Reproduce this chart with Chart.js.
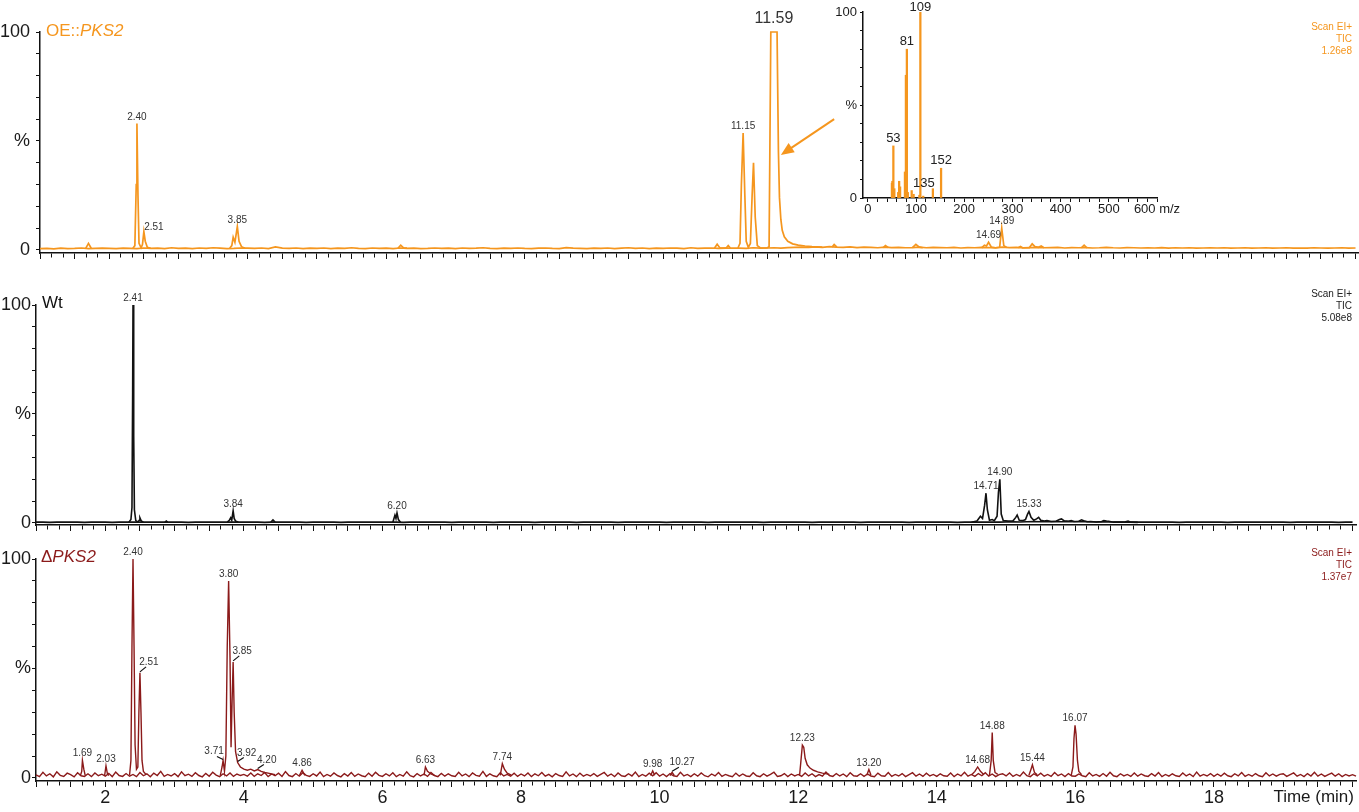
<!DOCTYPE html>
<html>
<head>
<meta charset="utf-8">
<title>TIC chromatograms</title>
<script src="https://cdn.jsdelivr.net/npm/chart.js@4.4.1/dist/chart.umd.min.js"></script>
<style>
  html, body { margin: 0; padding: 0; background: #fff; }
  #wrap { position: relative; width: 1359px; height: 812px; overflow: hidden; font-family: "Liberation Sans", Arial, sans-serif; }
  canvas { position: absolute; left: 0; }
  .ttl { position: absolute; font-size: 17px; line-height: 18px; white-space: nowrap; }
  .scan { position: absolute; right: 7px; font-size: 10px; line-height: 12px; text-align: right; }
  .xname { position: absolute; right: 5px; top: 788px; font-size: 17px; line-height: 18px; color: #1a1a1a; }
</style>
</head>
<body>
<div id="wrap">
  <canvas id="oe" width="1359" height="270" style="top:0"></canvas>
  <canvas id="wt" width="1359" height="265" style="top:275px"></canvas>
  <canvas id="ko" width="1359" height="267" style="top:545px"></canvas>
  <canvas id="ms" width="400" height="222" style="left:820px;top:0"></canvas>

  <div class="ttl" style="left:46px;top:22px;color:#f5961e">OE::<i>PKS2</i></div>
  <div class="ttl" style="left:42px;top:294px;color:#111">Wt</div>
  <div class="ttl" style="left:41px;top:548px;color:#8b1a1a">Δ<i>PKS2</i></div>

  <div class="scan" style="top:21px;color:#f5961e">Scan EI+<br>TIC<br>1.26e8</div>
  <div class="scan" style="top:288px;color:#222">Scan EI+<br>TIC<br>5.08e8</div>
  <div class="scan" style="top:547px;color:#8b1a1a">Scan EI+<br>TIC<br>1.37e7</div>

  <div class="xname">Time (min)</div>
</div>

<script>
// ===== Colours / fonts =====
const ORANGE = "#f5961e";
const DARKRED = "#8b1a1a";
const BLACK = "#111";
const FONT = '"Liberation Sans", Arial, sans-serif';

// ===== Axis values =====
const TIME_MIN = 1.0;
const TIME_MAX = 20.05;
const timeLabels = [2, 4, 6, 8, 10, 12, 14, 16, 18];

// ===== OE::PKS2 trace (%), baseline sampled every 0.1 min from 1.0 =====
const oeBaseStep = 0.1;
const oeBaseline = [
  0.6,0.7,0.5,0.8,0.6,0.7,0.9,0.6,0.7,0.8,
  0.7,0.6,0.8,0.7,0.6,0.9,0.7,0.8,0.6,1.0,
  0.7,0.8,0.6,0.9,0.7,1.0,0.8,0.6,0.7,0.9,
  0.8,0.7,0.9,0.6,1.4,0.8,0.7,0.9,0.6,0.8,
  0.7,0.9,0.6,0.8,0.7,1.0,0.7,0.6,0.9,0.7,
  0.8,0.6,0.9,0.7,0.8,0.6,0.7,0.9,0.7,0.8,
  0.6,0.9,0.7,0.8,1.0,0.7,0.6,0.8,0.7,0.9,
  0.7,0.6,0.8,0.9,0.7,0.6,1.1,0.8,0.7,0.6,
  0.8,0.7,0.9,0.6,0.8,1.0,0.7,0.9,0.6,0.8,
  0.7,0.9,0.8,0.6,1.0,0.7,0.8,0.9,0.7,0.8,
  0.9,0.8,0.7,1.0,0.8,0.9,1.0,0.8,1.1,1.2,
  1.3,1.2,1.4,1.2,1.5,1.3,1.2,1.4,1.1,1.3,
  1.2,1.0,1.3,1.1,1.2,1.0,1.1,1.3,1.0,1.2,
  1.1,1.0,1.2,0.9,1.1,1.0,1.2,1.1,1.0,1.3,
  1.1,1.2,1.0,1.1,1.2,1.0,1.1,1.2,0.9,1.1,
  1.0,1.1,0.9,1.0,1.2,1.0,0.9,1.1,1.0,0.9,
  1.0,0.9,1.1,0.8,1.0,0.9,1.0,0.8,0.9,1.0,
  0.9,1.0,0.8,0.9,1.0,0.8,0.9,1.0,0.8,0.9,
  1.0,0.8,0.9,0.8,1.0,0.9,0.8,0.9,1.0,0.8,
  0.9
];
const oePeaks = [
  [[1.66,0.7],[1.70,3.0],[1.74,0.8]],
  [[2.34,0.7],[2.37,2],[2.39,30],[2.40,58],[2.415,25],[2.43,3],[2.46,1.0],[2.48,2.5],[2.50,8.4],[2.52,4],[2.55,1.2],[2.60,0.8]],
  [[3.74,0.8],[3.77,2],[3.79,5.8],[3.815,3.5],[3.85,10.7],[3.875,4],[3.91,1.5],[3.96,0.8]],
  [[6.17,0.8],[6.21,2.2],[6.25,1.0],[6.30,0.8]],
  [[10.74,0.8],[10.78,2.6],[10.82,0.9],[10.91,0.9],[10.94,2.0],[10.97,0.9]],
  [[11.08,0.9],[11.11,3],[11.13,30],[11.155,53.6],[11.18,25],[11.20,4],[11.23,1.2],[11.26,3],[11.285,25],[11.305,40],[11.33,15],[11.36,2],[11.40,1.0],
   [11.50,0.9],[11.53,1.5],[11.555,100],[11.645,100],[11.665,45],[11.68,24],[11.70,14],[11.72,9],[11.75,6],[11.80,4],[11.87,2.8],[11.95,2.2],[12.05,1.8],[12.15,1.5],[12.3,1.3]],
  [[12.44,1.3],[12.47,2.5],[12.51,1.3]],
  [[13.18,1.1],[13.21,2.0],[13.25,1.1]],
  [[13.60,1.1],[13.65,2.6],[13.70,1.3],[13.75,1.0]],
  [[14.60,1.0],[14.64,2.2],[14.67,1.8],[14.70,3.5],[14.74,1.3],[14.80,1.0],[14.86,1.2],[14.89,10],[14.92,2],[14.96,1.1]],
  [[15.13,1.0],[15.16,1.6],[15.19,1.0],[15.29,1.1],[15.33,2.8],[15.37,1.5],[15.42,1.2],[15.46,1.8],[15.50,1.0]],
  [[16.04,1.0],[16.08,2.2],[16.12,1.0]]
];
const oeLabels = [
  ["2.40", 2.40, 58], ["2.51", 2.50, 8.4], ["3.85", 3.85, 10.7], ["11.15", 11.155, 53.6],
  ["11.59", 11.60, 100], ["14.69", 14.70, 3.5], ["14.89", 14.89, 10]
];

// ===== Wt trace (%) =====
const wtBaseStep = 0.1;
const wtBaseline = [
  0.3,0.3,0.2,0.3,0.4,0.3,0.3,0.2,0.3,0.3,
  0.3,0.2,0.3,0.3,0.3,0.3,0.3,0.3,0.4,0.3,
  0.3,0.3,0.2,0.3,0.3,0.3,0.4,0.3,0.3,0.3,
  0.3,0.3,0.3,0.2,0.3,0.3,0.3,0.3,0.3,0.2,
  0.3,0.3,0.3,0.3,0.2,0.3,0.3,0.3,0.3,0.3,
  0.3,0.3,0.3,0.2,0.3,0.3,0.3,0.3,0.3,0.3,
  0.2,0.3,0.3,0.3,0.3,0.3,0.2,0.3,0.3,0.3,
  0.3,0.3,0.2,0.3,0.3,0.3,0.3,0.3,0.2,0.3,
  0.3,0.3,0.3,0.3,0.2,0.3,0.3,0.3,0.3,0.3,
  0.3,0.2,0.3,0.3,0.3,0.3,0.3,0.2,0.3,0.3,
  0.3,0.3,0.3,0.3,0.3,0.2,0.3,0.3,0.3,0.3,
  0.3,0.3,0.2,0.3,0.3,0.3,0.3,0.3,0.3,0.2,
  0.3,0.3,0.3,0.3,0.3,0.3,0.2,0.3,0.3,0.3,
  0.3,0.3,0.3,0.2,0.3,0.3,0.3,0.3,0.4,0.3,
  0.4,0.5,0.4,0.5,0.6,0.5,0.5,0.6,0.5,0.6,
  0.5,0.6,0.5,0.4,0.5,0.4,0.4,0.3,0.4,0.3,
  0.3,0.3,0.3,0.3,0.3,0.2,0.3,0.3,0.3,0.3,
  0.3,0.3,0.2,0.3,0.3,0.3,0.3,0.3,0.3,0.3,
  0.3,0.2,0.3,0.3,0.3,0.3,0.3,0.3,0.2,0.3,
  0.3
];
const wtPeaks = [
  [[2.34,0.3],[2.37,1.5],[2.385,7],[2.395,60],[2.40,100],[2.41,40],[2.42,6],[2.44,1],[2.47,0.4],[2.49,1.2],[2.50,2.3],[2.52,0.8],[2.55,0.3]],
  [[2.86,0.3],[2.88,0.8],[2.90,0.3]],
  [[3.76,0.3],[3.79,1.2],[3.81,2.3],[3.825,1.2],[3.845,5.5],[3.86,2],[3.88,0.8],[3.92,0.3]],
  [[4.39,0.3],[4.42,1.3],[4.45,0.3]],
  [[6.15,0.3],[6.18,3.5],[6.195,2],[6.21,4.5],[6.23,1.5],[6.26,0.3]],
  [[14.50,0.3],[14.58,0.8],[14.63,3],[14.66,2],[14.69,8],[14.71,13.6],[14.73,6],[14.76,1.2],[14.80,1.5],[14.83,1.0],[14.87,3],[14.89,14],[14.91,20],[14.93,4],[14.96,1],
   [15.03,0.8],[15.10,0.9],[15.14,2.5],[15.16,3.6],[15.19,1.2],[15.24,1.0],[15.28,1.5],[15.31,4],[15.33,5.2],[15.36,2.5],[15.40,1.2],[15.44,1.8],[15.47,2.5],[15.50,1.2],
   [15.55,0.8],[15.59,1.0],[15.65,0.6],[15.72,0.7],[15.77,1.5],[15.80,1.8],[15.84,0.9],[15.90,0.7],[15.94,1.0],[15.98,0.6],[16.05,0.7],[16.09,1.4],[16.12,1.0],
   [16.17,0.5],[16.22,0.6],[16.30,0.4],[16.38,0.6],[16.41,1.0],[16.45,0.8],[16.48,0.7],[16.55,0.3],[16.70,0.3],[16.76,0.8],[16.80,0.3],[16.90,0.2]]
];
const wtLabels = [
  ["2.41", 2.40, 100], ["3.84", 3.845, 5.5], ["6.20", 6.21, 4.5],
  ["14.71", 14.71, 13.6], ["14.90", 14.91, 20], ["15.33", 15.33, 5.2]
];

// ===== ΔPKS2 trace (%), baseline sampled every 0.05 min from 1.0 =====
const koBaseStep = 0.05;
const koBaseline = [
  1.4,0.6,2.6,0.9,1.9,0.5,2.8,1.2,0.7,2.2,1.5,0.5,2.4,1.0,0.7,1.9,0.6,2.3,1.0,1.7,
  0.8,2.1,0.6,2.7,1.1,0.7,2.0,0.8,1.6,0.6,2.5,1.0,1.9,0.5,2.2,1.1,3.0,0.7,1.6,0.9,
  2.0,0.6,2.8,1.0,1.7,0.7,2.4,1.1,0.5,2.1,0.8,2.6,1.3,0.6,1.9,0.9,2.3,0.7,1.8,1.1,
  1.6,0.8,2.3,0.7,1.9,1.1,2.5,0.6,1.8,1.0,2.2,0.7,2.9,1.1,0.6,2.0,0.8,2.4,1.2,0.7,
  1.9,0.9,2.7,0.6,1.6,0.8,2.3,1.1,0.5,2.0,0.9,2.5,0.7,1.8,1.0,0.6,2.2,0.8,2.6,1.2,
  0.7,1.9,0.9,2.4,0.6,1.6,0.8,2.8,1.0,0.5,2.0,0.9,1.8,0.7,2.5,1.1,0.6,2.1,0.8,1.9,
  1.0,0.7,2.6,0.9,1.8,0.6,2.3,1.2,0.8,3.0,0.7,1.9,1.0,0.6,2.4,0.9,1.6,0.8,2.2,0.7,
  1.8,0.9,2.3,0.6,1.9,1.0,2.5,0.8,1.6,0.5,2.0,1.1,0.7,2.8,0.9,1.8,0.6,2.2,0.8,1.6,
  0.9,2.0,0.7,1.6,2.5,0.8,1.8,0.6,2.3,1.0,0.7,1.9,0.9,2.7,0.6,1.6,0.8,2.2,1.0,2.4,
  0.8,1.8,0.6,2.0,1.0,0.7,2.6,0.9,1.6,0.6,1.9,0.8,2.3,1.0,0.5,1.8,0.9,2.5,0.7,1.6,
  1.0,0.6,2.2,0.8,1.8,0.9,0.7,2.4,1.0,0.6,1.9,0.8,1.6,2.6,0.7,1.0,2.0,0.6,1.8,0.9,
  1.6,0.7,2.3,0.9,1.9,0.6,1.5,0.8,2.7,1.1,0.7,2.0,0.9,1.8,0.6,2.4,1.0,0.8,1.9,0.7,
  1.8,0.9,0.6,2.2,1.0,0.8,2.5,0.7,1.6,0.9,2.0,0.6,1.5,2.4,0.8,1.8,0.7,2.2,0.9,1.6,
  0.7,1.9,1.0,0.8,2.3,0.6,1.8,0.9,2.6,0.8,1.6,0.7,2.0,1.0,2.4,0.8,1.8,0.6,1.5,1.9,
  0.9,2.3,0.7,1.6,0.8,2.7,1.0,0.6,1.9,0.9,2.2,0.8,1.6,0.7,2.5,1.0,1.8,0.6,2.0,0.9,
  0.8,1.8,1.0,0.6,2.4,0.9,1.6,0.7,2.0,0.8,2.6,1.0,0.6,1.9,0.9,1.6,0.7,2.3,0.8,1.8,
  1.0,0.7,2.0,0.9,2.5,0.6,1.6,0.8,1.9,1.0,0.7,2.3,0.9,1.8,0.6,2.7,0.8,1.6,0.9,2.0,
  0.7,1.8,0.8,2.2,1.0,0.6,1.9,0.9,2.5,0.7,1.6,0.8,2.0,1.0,0.6,2.4,0.9,1.8,0.8,1.6,
  1.9,0.7,1.5,2.3,0.8,1.6,0.6,2.0,0.9,2.6,0.8,1.8,0.7,1.5,2.2,0.8,1.9,0.6,1.6,0.9,
  1.5,0.8
];
const koPeaks = [
  [[1.64,1.0],[1.66,3],[1.67,8],[1.69,4],[1.71,1.2]],
  [[1.99,1.0],[2.01,5.5],[2.03,2],[2.05,1.0]],
  [[2.35,1.2],[2.37,8],[2.385,60],[2.40,100],[2.415,60],[2.43,15],[2.45,4],[2.47,5],[2.485,30],[2.50,48],[2.515,30],[2.53,8],[2.55,3],[2.59,1.5]],
  [[3.66,1.2],[3.685,5],[3.70,8],[3.72,3],[3.74,10],[3.76,60],[3.78,90],[3.80,55],[3.815,14],[3.83,35],[3.845,53],[3.86,30],[3.88,12],[3.91,7],
   [3.95,5],[4.00,4],[4.05,3.5],[4.10,4],[4.15,3.2],[4.20,3.8],[4.25,3],[4.30,2.5],[4.35,2.2],[4.40,1.8],[4.45,1.5]],
  [[4.80,1.0],[4.84,3.5],[4.88,1.2]],
  [[6.60,1.2],[6.62,5],[6.65,3],[6.70,1.8],[6.75,1.2]],
  [[7.70,1.2],[7.73,6.5],[7.76,4],[7.80,2.2],[7.86,1.3]],
  [[9.87,1.1],[9.90,3.2],[9.93,1.2]],
  [[10.15,1.1],[10.18,2.6],[10.21,1.2]],
  [[12.02,1.2],[12.04,8],[12.06,15],[12.08,14],[12.10,9],[12.13,6],[12.17,4.5],[12.22,3.5],[12.28,2.8],[12.35,2.2],[12.45,1.6]],
  [[12.99,1.2],[13.02,3.8],[13.05,1.3]],
  [[14.50,1.3],[14.55,3],[14.59,5],[14.63,3],[14.68,1.5]],
  [[14.76,1.2],[14.785,8],[14.80,20.7],[14.815,8],[14.84,2.5],[14.88,1.6]],
  [[15.33,1.2],[15.36,4],[15.38,6],[15.41,2.5],[15.45,1.4]],
  [[15.94,1.2],[15.965,5],[15.98,18],[15.995,24],[16.01,20],[16.03,8],[16.05,3],[16.09,1.5]]
];
const koLabels = [
  ["1.69", 1.67, 8], ["2.03", 2.01, 5.5], ["2.40", 2.40, 100], ["2.51", 2.50, 48],
  ["3.71", 3.70, 8], ["3.80", 3.78, 90], ["3.85", 3.845, 53], ["3.92", 3.91, 7],
  ["4.20", 4.20, 3.8], ["4.86", 4.84, 3.5], ["6.63", 6.62, 5], ["7.74", 7.73, 6.5],
  ["9.98", 9.90, 3.2], ["10.27", 10.18, 2.6], ["12.23", 12.06, 15], ["13.20", 13.02, 3.8],
  ["14.68", 14.59, 5], ["14.88", 14.80, 20.7], ["15.44", 15.38, 6], ["16.07", 15.995, 24]
];

// ===== Inset mass spectrum of 11.59 =====
const msMz = [50, 51, 53, 55, 63, 65, 67, 77, 79, 81, 83, 91, 95, 107, 109, 115, 135, 152];
const msInt = [8, 9, 28, 5, 3, 9, 6, 14, 66, 80, 3, 4, 2, 1.5, 100, 1, 5, 16];
const msLabels = [["109", 109, 100], ["81", 81, 80], ["53", 53, 28], ["152", 152, 16], ["135", 135, 5]];

// ===== Helpers =====
function gridSeries(values, step) {
    return values.map((v, i) => ({ x: +(TIME_MIN + i * step).toFixed(3), y: v }));
}

function pairSeries(pairs) {
    return pairs.map(([x, y]) => ({ x, y }));
}

function traceDatasets(baseline, step, peaks, color, width) {
    const style = { borderColor: color, borderWidth: width, pointRadius: 0, tension: 0, fill: false, clip: false };
    const sets = [Object.assign({ data: gridSeries(baseline, step) }, style)];
    peaks.forEach(p => sets.push(Object.assign({ data: pairSeries(p) }, style)));
    return sets;
}

function stepTicks(from, to, step) {
    const out = [];
    for (let k = 0; from + k * step <= to + 1e-9; k++) out.push({ value: +(from + k * step).toFixed(4) });
    return out;
}

// half-minute ticks are drawn full length, the others dashed short
function isHalfMinute(v) {
    return Math.abs(v * 2 - Math.round(v * 2)) < 1e-6;
}

// peak labels + optional leader lines / arrow, positioned through the chart scales
const peakLabelPlugin = {
    id: "peakLabels",
    afterDatasetsDraw(chart, args, opts) {
        const { ctx, scales } = chart;
        const xs = scales.x, ys = scales.y;
        ctx.save();
        ctx.textAlign = "center";
        ctx.textBaseline = "alphabetic";
        (opts.items || []).forEach(([text, t, v]) => {
            const px = xs.getPixelForValue(t);
            const py = ys.getPixelForValue(v);
            const off = (opts.offsets || {})[text] || [0, -3, false];
            const big = (opts.big || {})[text];
            ctx.font = `${big || opts.size}px ${FONT}`;
            ctx.fillStyle = opts.color;
            if (off[2]) {
                ctx.strokeStyle = "#111";
                ctx.lineWidth = 1.2;
                ctx.beginPath();
                ctx.moveTo(px, py - 1);
                ctx.lineTo(px + off[0] * 0.68, py + off[1] + 1);
                ctx.stroke();
            }
            const lift = big ? 7 : 2;
            ctx.fillText(text, px + off[0], py + off[1] - lift + 1);
        });
        if (opts.arrow) {
            const [t0, v0, t1, v1] = opts.arrow;
            const x0 = xs.getPixelForValue(t0), y0 = ys.getPixelForValue(v0);
            const x1 = xs.getPixelForValue(t1), y1 = ys.getPixelForValue(v1);
            const ang = Math.atan2(y1 - y0, x1 - x0);
            const len = 13, half = 5.5;
            ctx.strokeStyle = opts.arrowColor;
            ctx.fillStyle = opts.arrowColor;
            ctx.lineWidth = 2;
            ctx.beginPath();
            ctx.moveTo(x0, y0);
            ctx.lineTo(x1 - Math.cos(ang) * len * 0.8, y1 - Math.sin(ang) * len * 0.8);
            ctx.stroke();
            ctx.beginPath();
            ctx.moveTo(x1, y1);
            ctx.lineTo(x1 - Math.cos(ang) * len - Math.sin(ang) * half, y1 - Math.sin(ang) * len + Math.cos(ang) * half);
            ctx.lineTo(x1 - Math.cos(ang) * len + Math.sin(ang) * half, y1 - Math.sin(ang) * len - Math.cos(ang) * half);
            ctx.closePath();
            ctx.fill();
        }
        ctx.restore();
    }
};

function timeAxis(showLabels, height) {
    return {
        type: "linear", min: TIME_MIN, max: TIME_MAX, offset: false,
        afterBuildTicks: s => { s.ticks = stepTicks(1, 20, 1 / 6); },
        afterFit: s => { s.height = height; },
        grid: {
            drawOnChartArea: false, drawTicks: true, tickLength: 6, tickColor: BLACK, tickWidth: 1,
            tickBorderDash: c => (c.tick && isHalfMinute(c.tick.value)) ? [] : [4, 20]
        },
        border: { display: true, color: BLACK, width: 1.5 },
        ticks: {
            display: showLabels, autoSkip: false, maxRotation: 0, minRotation: 0, padding: 0,
            color: "#1a1a1a", font: { family: FONT, size: 18 },
            callback: v => {
                const r = Math.round(v);
                return Math.abs(v - r) < 1e-6 && timeLabels.includes(r) ? String(r) : "";
            }
        }
    };
}

function pctAxis(min, width, pad) {
    return {
        min: min, max: 100,
        afterBuildTicks: s => { s.ticks = stepTicks(0, 100, 10); },
        afterFit: s => { s.width = width; },
        grid: { drawOnChartArea: false, drawTicks: true, tickLength: 4, tickColor: BLACK, tickWidth: 1 },
        border: { display: true, color: BLACK, width: 1.5 },
        ticks: {
            autoSkip: false, padding: pad, color: "#1a1a1a", font: { family: FONT, size: 18 },
            callback: v => v === 100 ? "100" : v === 50 ? "%" : v === 0 ? "0" : ""
        }
    };
}

function makePanel(id, datasets, o) {
    return new Chart(document.getElementById(id), {
        type: "line",
        data: { datasets },
        options: {
            responsive: false, animation: false, devicePixelRatio: 1, events: [],
            layout: { padding: { top: o.padTop, right: o.padRight, left: 0, bottom: 0 } },
            scales: {
                x: timeAxis(o.showX, o.xHeight),
                y: pctAxis(o.yMin, o.yWidth, o.yPad)
            },
            plugins: {
                legend: { display: false }, tooltip: { enabled: false },
                peakLabels: o.labels
            }
        },
        plugins: [peakLabelPlugin]
    });
}

Chart.defaults.font.family = FONT;

// ===== Top: OE::PKS2 =====
makePanel("oe", traceDatasets(oeBaseline, oeBaseStep, oePeaks, ORANGE, 1.7), {
    padTop: 32, padRight: 0, showX: false, xHeight: 17, yMin: -1.4, yWidth: 40, yPad: 6,
    labels: {
        items: oeLabels, size: 10, color: "#333",
        offsets: { "2.51": [10, -1, false] },
        big: { "11.59": 16 },
        arrow: [12.47, 60, 11.70, 43.6], arrowColor: ORANGE
    }
});

// ===== Middle: Wt =====
makePanel("wt", traceDatasets(wtBaseline, wtBaseStep, wtPeaks, BLACK, 1.6), {
    padTop: 30, padRight: 3, showX: false, xHeight: 15, yMin: -1.0, yWidth: 36, yPad: 1,
    labels: { items: wtLabels, size: 10, color: "#333" }
});

// ===== Bottom: ΔPKS2 =====
makePanel("ko", traceDatasets(koBaseline, koBaseStep, koPeaks, DARKRED, 1.4), {
    padTop: 14, padRight: 3, showX: true, xHeight: 31, yMin: -1.4, yWidth: 36, yPad: 1,
    labels: {
        items: koLabels, size: 10, color: "#333",
        offsets: {
            "2.51": [9, -7, true], "3.71": [-9, -5, true], "3.85": [9, -7, true],
            "3.92": [9, -6, true], "4.20": [9, -6, true], "10.27": [10, -6, true]
        }
    }
});

// ===== Inset: mass spectrum =====
new Chart(document.getElementById("ms"), {
    type: "bar",
    data: {
        datasets: [{
            data: msMz.map((m, i) => ({ x: m, y: msInt[i] })),
            backgroundColor: ORANGE, borderWidth: 0, barThickness: 1.6
        }]
    },
    options: {
        responsive: false, animation: false, devicePixelRatio: 1, events: [],
        layout: { padding: { top: 12, right: 63, left: 0, bottom: 0 } },
        scales: {
            x: {
                type: "linear", min: -10, max: 600, offset: false,
                afterBuildTicks: s => { s.ticks = stepTicks(0, 600, 20); },
                afterFit: s => { s.height = 24; },
                grid: { offset: false, drawOnChartArea: false, drawTicks: true, tickLength: 4, tickColor: BLACK, tickWidth: 1 },
                border: { display: true, color: BLACK, width: 1.5 },
                ticks: {
                    autoSkip: false, maxRotation: 0, padding: 0, color: "#1a1a1a", font: { family: FONT, size: 13 },
                    callback: v => v % 100 === 0 ? (v === 600 ? "600 m/z" : String(v)) : ""
                }
            },
            y: {
                min: 0, max: 100,
                afterBuildTicks: s => { s.ticks = stepTicks(0, 100, 10); },
                afterFit: s => { s.width = 43; },
                grid: { drawOnChartArea: false, drawTicks: true, tickLength: 3, tickColor: BLACK, tickWidth: 1 },
                border: { display: true, color: BLACK, width: 1.5 },
                ticks: {
                    autoSkip: false, padding: 3, color: "#1a1a1a", font: { family: FONT, size: 13 },
                    callback: v => v === 100 ? "100" : v === 50 ? "%" : v === 0 ? "0" : ""
                }
            }
        },
        plugins: {
            legend: { display: false }, tooltip: { enabled: false },
            peakLabels: {
                items: msLabels, size: 13, color: "#222",
                offsets: { "109": [0, 0, false], "135": [-9, -1, false] }
            }
        }
    },
    plugins: [peakLabelPlugin]
});
</script>
</body>
</html>
